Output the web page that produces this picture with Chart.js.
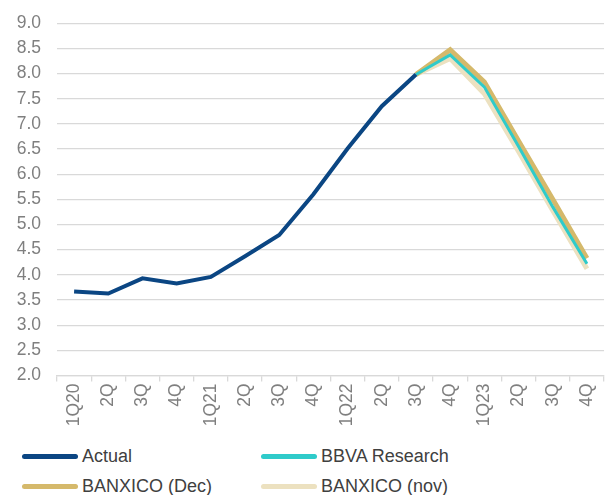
<!DOCTYPE html>
<html>
<head>
<meta charset="utf-8">
<script src="https://cdn.jsdelivr.net/npm/chart.js@4.4.1/dist/chart.umd.min.js"></script>
<style>
  html, body { margin: 0; padding: 0; background: #fff; }
  #wrap { position: relative; width: 610px; height: 495px; }
  #chart-box { position: absolute; left: 0; top: 0; width: 610px; height: 440px; }
  #legend { position: absolute; left: 0; top: 440px; width: 610px; height: 55px;
            font-family: "Liberation Sans", Arial, sans-serif; font-size: 18px; color: #404040; }
  .item { position: absolute; display: flex; align-items: center; height: 24px; }
  .swatch { width: 56px; height: 5px; border-radius: 3px; margin-right: 4px; }
</style>
</head>
<body>
<div id="wrap">
  <div id="chart-box"><canvas id="chart"></canvas></div>
  <div id="legend"></div>
</div>
<script>
// quarterly inflation, % yoy
const quarters = ["1Q20", "2Q", "3Q", "4Q", "1Q21", "2Q", "3Q", "4Q",
                  "1Q22", "2Q", "3Q", "4Q", "1Q23", "2Q", "3Q", "4Q"];
const actual     = [3.67, 3.63, 3.93, 3.83, 3.96, 4.37, 4.79, 5.6, 6.51, 7.35, 7.98, null, null, null, null, null];
const bbva       = [null, null, null, null, null, null, null, null, null, null, 7.98, 8.37, 7.73, 6.55, 5.35, 4.22];
const banxicoDec = [null, null, null, null, null, null, null, null, null, null, 7.98, 8.47, 7.83, 6.66, 5.5, 4.33];
const banxicoNov = [null, null, null, null, null, null, null, null, null, null, 7.98, 8.3, 7.6, 6.45, 5.28, 4.12];
const yTicks = [2.0, 2.5, 3.0, 3.5, 4.0, 4.5, 5.0, 5.5, 6.0, 6.5, 7.0, 7.5, 8.0, 8.5, 9.0];

const series = [
    { label: "Actual", data: actual, color: "#0b4683", width: 4, order: 0 },
    { label: "BBVA Research", data: bbva, color: "#2fcbca", width: 3, order: 1 },
    { label: "BANXICO (Dec)", data: banxicoDec, color: "#d5b96b", width: 5, order: 2 },
    { label: "BANXICO (nov)", data: banxicoNov, color: "#ece1c0", width: 5, order: 3 },
];

const FONT = "'Liberation Sans', Arial, sans-serif";
const GRID = "#d9d9d9";

new Chart(document.getElementById("chart"), {
    type: "line",
    data: {
        labels: quarters,
        datasets: series.map(s => ({
            label: s.label,
            data: s.data,
            borderColor: s.color,
            backgroundColor: s.color,
            borderWidth: s.width,
            pointRadius: 0,
            tension: 0,
            order: s.order,
            spanGaps: false,
        })),
    },
    options: {
        responsive: true,
        maintainAspectRatio: false,
        animation: false,
        layout: { padding: { top: 0, right: 2, left: 0, bottom: 0 } },
        plugins: {
            legend: { display: false },
            tooltip: { enabled: false },
        },
        scales: {
            x: {
                offset: true,
                grid: {
                    offset: true,
                    drawOnChartArea: false,
                    drawTicks: true,
                    tickLength: 6,
                    color: GRID,
                    lineWidth: 1.3,
                },
                border: { display: true, color: GRID, width: 1.3 },
                ticks: {
                    autoSkip: false,
                    maxRotation: 90,
                    minRotation: 90,
                    color: "#7f7f7f",
                    padding: 2,
                    font: { family: FONT, size: 17.5 },
                },
                afterFit: scale => { scale.height = 64.5; },
            },
            y: {
                min: yTicks[0],
                max: yTicks[yTicks.length - 1],
                afterBuildTicks: scale => { scale.ticks = yTicks.map(v => ({ value: v })); },
                grid: { color: GRID, lineWidth: 1.3, drawTicks: false },
                border: { display: false },
                ticks: {
                    color: "#7f7f7f",
                    padding: 16,
                    font: { family: FONT, size: 17.5, lineHeight: 0.82 },
                    callback: v => Number(v).toFixed(1),
                },
                afterFit: scale => { scale.width = 57; },
            },
        },
    },
});

// two-column legend under the plot
const legend = document.getElementById("legend");
const legendPos = [[22, 4], [261, 4], [22, 34], [261, 34]];
series.forEach((s, i) => {
    const item = document.createElement("div");
    item.className = "item";
    item.style.left = legendPos[i][0] + "px";
    item.style.top = legendPos[i][1] + "px";
    const sw = document.createElement("span");
    sw.className = "swatch";
    sw.style.background = s.color;
    const txt = document.createElement("span");
    txt.textContent = s.label;
    item.appendChild(sw);
    item.appendChild(txt);
    legend.appendChild(item);
});
</script>
</body>
</html>
